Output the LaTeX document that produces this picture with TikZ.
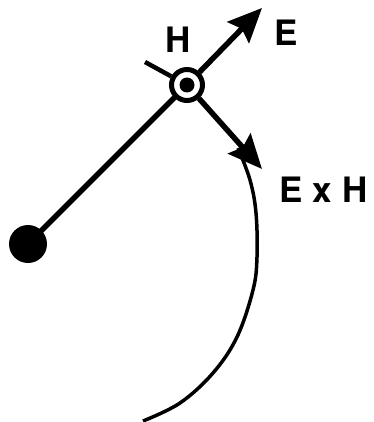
\documentclass[tikz,border=0pt]{standalone}
\usepackage{fontspec}
\setmainfont{TeX Gyre Heros}
\usetikzlibrary{arrows.meta}
\begin{document}
\begin{tikzpicture}[x=1pt,y=-1pt,
  shaft/.style={line width=5.5pt},
  bigarrow/.style={-{Stealth[length=34pt,width=30pt,inset=5pt]}},
  lbl/.style={font=\bfseries\fontsize{35}{35}\selectfont, inner sep=0pt}]
\useasboundingbox (0,0) rectangle (373,422);
% charge and field point
\node[circle, fill=black, minimum size=38pt, inner sep=0pt] (q) at (28,244) {};
\node[circle, draw=black, line width=5pt, minimum size=31pt, inner sep=0pt] (h) at (187,85) {};
\fill (h.center) circle (7.5pt);
% coordinates
\coordinate (etip) at (262,8);
\coordinate (ptip) at (262,169);
\coordinate (tk) at (145,62);
% lines
\draw[shaft] (q.center) -- (h);
\draw[line width=4.5pt] (tk) -- (h);
\draw[shaft, bigarrow] (h) -- (etip);
\draw[line width=3.5pt] plot[smooth, tension=0.6] coordinates {(238,148) (250,180) (256,213) (257,257) (253,290) (237,337) (213,373) (180,403) (143,421)};
\draw[shaft, bigarrow] (h) -- (ptip);
% labels
\node[lbl] (lh) at (178,40) {H};
\node[lbl] (le) at (286,32.5) {E};
\node[lbl] (leh) at (323.5,189.5) {E x H};
\end{tikzpicture}
\end{document}
